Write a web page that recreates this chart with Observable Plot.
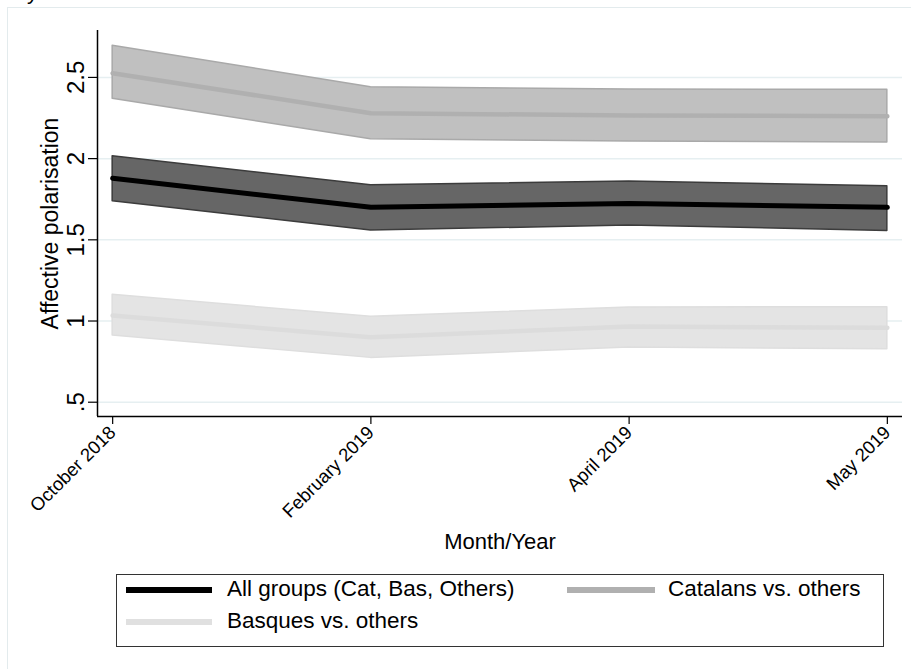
<!DOCTYPE html>
<html>
<head>
<meta charset="utf-8">
<script src="https://cdn.jsdelivr.net/npm/d3@7"></script>
<script src="https://cdn.jsdelivr.net/npm/@observablehq/plot@0.6"></script>
<style>
  html, body { margin: 0; padding: 0; background: #fff; overflow: hidden; }
  body { width: 911px; height: 669px; position: relative; font-family: "Liberation Sans", Arial, sans-serif; }
  #outer { position: absolute; left: 7px; top: 7px; width: 1000px; height: 1000px; border: 1px solid #e3ebed; box-sizing: border-box; }
  #cut { position: absolute; left: 27px; top: -18.6px; font-size: 22px; line-height: 22px; color: #000; }
  #chart { position: absolute; left: 0; top: 0; }
  #legend { position: absolute; left: 116px; top: 574px; width: 768px; height: 73px; border: 1px solid #333; box-sizing: border-box; background: #fff; }
  .sw { position: absolute; height: 6px; }
  .lt { position: absolute; font-size: 22.5px; line-height: 22px; color: #000; white-space: nowrap; }
</style>
</head>
<body>
<div id="outer"></div>
<div id="cut">y</div>
<div id="chart"></div>
<div id="legend"></div>
<script>
// ---- data ----
const months = ["October 2018", "February 2019", "April 2019", "May 2019"];
const seriesNames = ["All groups (Cat, Bas, Others)", "Catalans vs. others", "Basques vs. others"];

const allMean = [1.879, 1.700, 1.723, 1.700];
const allLo   = [1.738, 1.557, 1.588, 1.555];
const allHi   = [2.015, 1.836, 1.859, 1.830];

const catMean = [2.526, 2.280, 2.266, 2.261];
const catLo   = [2.368, 2.120, 2.105, 2.099];
const catHi   = [2.695, 2.440, 2.425, 2.424];

const basMean = [1.034, 0.900, 0.966, 0.958];
const basLo   = [0.911, 0.773, 0.837, 0.826];
const basHi   = [1.161, 1.026, 1.083, 1.085];

const yTicks = [0.5, 1, 1.5, 2, 2.5];
const yTickLabels = [".5", "1", "1.5", "2", "2.5"];

// ---- build tables ----
function table(mean, lo, hi) {
  return months.map((m, i) => ({i, mean: mean[i], lo: lo[i], hi: hi[i]}));
}
const allT = table(allMean, allLo, allHi);
const catT = table(catMean, catLo, catHi);
const basT = table(basMean, basLo, basHi);

const font = '"Liberation Sans", Arial, sans-serif';

const chart = Plot.plot({
  width: 911,
  height: 560,
  marginLeft: 97,
  marginRight: 9,
  marginTop: 30,
  marginBottom: 144,
  style: {fontFamily: font, background: "transparent", color: "#000"},
  x: {domain: [-0.0587, 3.0587], axis: null, label: null},
  y: {domain: [0.412, 2.789], axis: null, label: null},
  marks: [
    Plot.gridY(yTicks, {stroke: "#e6eff1", strokeOpacity: 1, strokeWidth: 1.5}),
    // Catalans
    Plot.areaY(catT, {x: "i", y1: "lo", y2: "hi", fill: "#c0c0c0", stroke: "#a9a9a9", strokeWidth: 1.5}),
    Plot.lineY(catT, {x: "i", y: "mean", stroke: "#b0b0b0", strokeWidth: 4.5}),
    // All groups
    Plot.areaY(allT, {x: "i", y1: "lo", y2: "hi", fill: "#666666", stroke: "#3c3c3c", strokeWidth: 1.5}),
    Plot.lineY(allT, {x: "i", y: "mean", stroke: "#000", strokeWidth: 5}),
    // Basques
    Plot.areaY(basT, {x: "i", y1: "lo", y2: "hi", fill: "#e4e4e4", stroke: "#dedede", strokeWidth: 1.5}),
    Plot.lineY(basT, {x: "i", y: "mean", stroke: "#dcdcdc", strokeWidth: 4.5}),
    // axes
    Plot.axisY({ticks: yTicks, label: null, tickSize: 9, tickPadding: 5, tickRotate: -90, fontSize: 24,
      tickFormat: d => yTickLabels[yTicks.indexOf(d)], stroke: "#000", strokeWidth: 1.2}),
    Plot.axisX({ticks: [0, 1, 2, 3], label: null, tickSize: 8, tickPadding: 5, tickRotate: -45, fontSize: 18.5,
      tickFormat: i => months[i], stroke: "#000", strokeWidth: 1.2}),
    Plot.ruleX([-0.0587], {stroke: "#000", strokeWidth: 1.5}),
    Plot.ruleY([0.412], {stroke: "#000", strokeWidth: 1.5}),
    Plot.text(["Affective polarisation"], {frameAnchor: "left", dx: -40, rotate: -90, textAnchor: "middle", lineAnchor: "bottom", fontSize: 23, fill: "#000"}),
    Plot.text(["Month/Year"], {frameAnchor: "bottom", dy: 132, textAnchor: "middle", lineAnchor: "bottom", fontSize: 22, fill: "#000"})
  ]
});
document.getElementById("chart").appendChild(chart);

// ---- legend ----
const legend = document.getElementById("legend");
const legendItems = [
  {name: seriesNames[0], color: "#000", sx: 9, sw: 86, tx: 110, row: 0},
  {name: seriesNames[1], color: "#b0b0b0", sx: 450, sw: 88, tx: 551, row: 0},
  {name: seriesNames[2], color: "#e0e0e0", sx: 9, sw: 86, tx: 110, row: 1}
];
legendItems.forEach(it => {
  const top = it.row === 0 ? 12 : 44;
  const s = document.createElement("div");
  s.className = "sw";
  s.style.left = it.sx + "px";
  s.style.width = it.sw + "px";
  s.style.top = top + "px";
  s.style.background = it.color;
  legend.appendChild(s);
  const t = document.createElement("div");
  t.className = "lt";
  t.style.left = it.tx + "px";
  t.style.top = (top - 9) + "px";
  t.textContent = it.name;
  legend.appendChild(t);
});
</script>
</body>
</html>
